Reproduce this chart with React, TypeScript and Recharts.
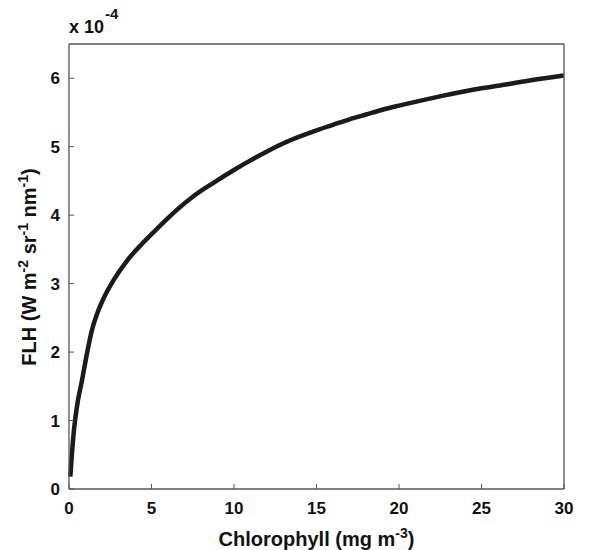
import React from 'react';
import { LineChart, Line, XAxis, YAxis, Label } from 'recharts';

// chlorophyll concentration (mg m^-3)
const chlorophyll = [0.08, 0.28, 0.48, 0.79, 1.09, 1.39, 1.69, 2.09, 2.7, 3.5, 4.5, 5.5, 6.5, 7.5, 8.8, 10, 11, 12, 13, 14, 15, 16, 17, 18, 19, 20, 22, 24, 26, 28, 30];
// FLH in units of 1e-4 W m^-2 sr^-1 nm^-1
const flh = [0.18, 0.81, 1.2, 1.59, 1.98, 2.32, 2.55, 2.78, 3.05, 3.33, 3.6, 3.84, 4.07, 4.27, 4.48, 4.66, 4.8, 4.93, 5.05, 5.15, 5.24, 5.32, 5.4, 5.47, 5.54, 5.6, 5.71, 5.81, 5.89, 5.97, 6.04];
const xTicks = [0, 5, 10, 15, 20, 25, 30];
const yTicks = [0, 1, 2, 3, 4, 5, 6];

const data = chlorophyll.map((c, i) => ({ chl: c, flh: flh[i] }));

const FONT = '"Liberation Sans", Arial, sans-serif';
const AXIS = '#555';
const tickStyle = { fontFamily: FONT, fontWeight: 700, fontSize: 17, fill: '#111' };

const XLabel = (props: any) => {
  const vb = props.viewBox;
  const cx = vb.x + vb.width / 2;
  return (
    <text x={cx} y={546} textAnchor="middle" fontFamily={FONT} fontWeight={700} fontSize={20} fill="#111">
      Chlorophyll (mg m
      <tspan dy={-8} fontSize={14}>-3</tspan>
      <tspan dy={8}>)</tspan>
    </text>
  );
};

const YLabel = () => {
  const cx = 36;
  const cy = 267;
  return (
    <text x={cx} y={cy} transform={`rotate(-90 ${cx} ${cy})`} textAnchor="middle" fontFamily={FONT} fontWeight={700} fontSize={20} fill="#111">
      FLH (W m
      <tspan dy={-8} fontSize={14}>-2</tspan>
      <tspan dy={8}> sr</tspan>
      <tspan dy={-8} fontSize={14}>-1</tspan>
      <tspan dy={8}> nm</tspan>
      <tspan dy={-8} fontSize={14}>-1</tspan>
      <tspan dy={8}>)</tspan>
    </text>
  );
};

export default function App() {
  return (
    <div style={{ position: 'absolute', left: 0, top: 0, width: 589, height: 550, background: '#fff' }}>
      <LineChart width={589} height={550} data={data} margin={{ top: 43, right: 24, bottom: 1, left: 0 }}>
        <XAxis
          dataKey="chl"
          type="number"
          domain={[0, 30]}
          ticks={xTicks}
          height={60}
          tickSize={-5}
          tickMargin={18}
          stroke={AXIS}
          tick={tickStyle}
          axisLine={{ stroke: AXIS, strokeWidth: 1.3 }}
          label={<Label content={XLabel} />}
        />
        <XAxis
          xAxisId="top"
          orientation="top"
          dataKey="chl"
          type="number"
          domain={[0, 30]}
          ticks={xTicks}
          height={1}
          tickSize={-5}
          tick={false}
          stroke={AXIS}
          axisLine={{ stroke: AXIS, strokeWidth: 1.3 }}
        />
        <YAxis
          type="number"
          domain={[0, 6.5]}
          ticks={yTicks}
          width={69}
          tickSize={-5}
          tickMargin={14}
          stroke={AXIS}
          tick={tickStyle}
          axisLine={{ stroke: AXIS, strokeWidth: 1.3 }}
          label={<Label content={YLabel} />}
        />
        <YAxis
          yAxisId="right"
          orientation="right"
          type="number"
          domain={[0, 6.5]}
          ticks={yTicks}
          width={1}
          tickSize={-5}
          tick={false}
          stroke={AXIS}
          axisLine={{ stroke: AXIS, strokeWidth: 1.3 }}
        />
        <Line
          dataKey="flh"
          type="monotone"
          stroke="#1c1a1a"
          strokeWidth={4.5}
          dot={false}
          isAnimationActive={false}
        />
      </LineChart>
      <svg width={140} height={40} style={{ position: 'absolute', left: 0, top: 0 }}>
        <text x={69} y={33} fontFamily={FONT} fontWeight={700} fontSize={18} fill="#111">
          x 10
          <tspan dx={1} dy={-14} fontSize={15}>-4</tspan>
        </text>
      </svg>
    </div>
  );
}
